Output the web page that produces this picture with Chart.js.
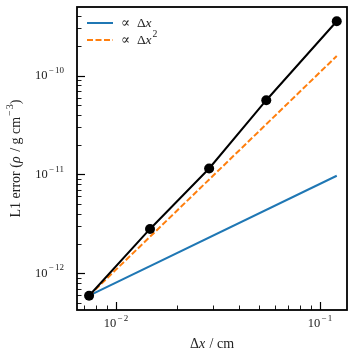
<!DOCTYPE html>
<html>
<head>
<meta charset="utf-8">
<script src="https://cdn.jsdelivr.net/npm/chart.js@4.4.1/dist/chart.umd.min.js"></script>
<style>
  html, body { margin: 0; padding: 0; background: #fff; }
</style>
</head>
<body>
<canvas id="chart" width="357" height="357"></canvas>
<script>
// values
const dx = [0.00738, 0.01468, 0.0286, 0.0545, 0.1207];
const l1Error = [5.93e-13, 2.81e-12, 1.15e-11, 5.64e-11, 3.55e-10];
const refX = [0.00738, 0.1207];
const linearRef = [5.93e-13, 9.7e-12];   // ∝ Δx
const quadRef = [5.93e-13, 1.58e-10];    // ∝ Δx^2
const xMajorTicks = [0.01, 0.1];
const yMajorTicks = [1e-12, 1e-11, 1e-10];
const legendLabels = ['\u221D \u0394x', '\u221D \u0394x'];

const SERIF = '"Liberation Serif", "DejaVu Serif", serif';
const BLUE = '#1f77b4';
const ORANGE = '#ff7f0e';

function font(size, italic) {
    return (italic ? 'italic ' : '') + size + 'px ' + SERIF;
}

// draw a list of text runs (normal / italic / superscript) on one line
function drawRuns(ctx, runs, x, y, align, size) {
    size = size || 12;
    const sub = size * 0.72;
    let total = 0;
    runs.forEach(r => {
        ctx.font = font(r.sup ? sub : size, r.it);
        r.w = ctx.measureText(r.t).width + (r.pad || 0);
        total += r.w;
    });
    let cx = align === 'center' ? x - total / 2 : (align === 'right' ? x - total : x);
    ctx.textAlign = 'left';
    ctx.textBaseline = 'middle';
    runs.forEach(r => {
        ctx.font = font(r.sup ? sub : size, r.it);
        ctx.fillText(r.t, cx + (r.padL || 0), y + (r.sup ? -size * 0.42 : 0));
        cx += r.w;
    });
}

function powRuns(v) {
    const e = Math.round(Math.log10(v));
    return [
        { t: '10' },
        { t: '\u2212', sup: true, pad: 2.5, padL: 1 },
        { t: String(Math.abs(e)), sup: true }
    ];
}

function minorTicks(min, max) {
    const out = [];
    for (let e = Math.floor(Math.log10(min)); e <= Math.ceil(Math.log10(max)); e++) {
        for (let m = 2; m <= 9; m++) {
            const v = m * Math.pow(10, e);
            if (v > min && v < max) out.push(v);
        }
    }
    return out;
}

const decorPlugin = {
    id: 'decor',
    afterDraw(chart) {
        const ctx = chart.ctx;
        const a = chart.chartArea;
        const xs = chart.scales.x;
        const ys = chart.scales.y;
        ctx.save();
        ctx.strokeStyle = '#000';
        ctx.fillStyle = '#000';

        // inward ticks on the left and bottom axes
        ctx.lineWidth = 1.2;
        xMajorTicks.forEach(v => {
            const px = Math.round(xs.getPixelForValue(v)) + 0.5;
            ctx.beginPath(); ctx.moveTo(px, a.bottom); ctx.lineTo(px, a.bottom - 8); ctx.stroke();
        });
        yMajorTicks.forEach(v => {
            const py = Math.round(ys.getPixelForValue(v)) + 0.5;
            ctx.beginPath(); ctx.moveTo(a.left, py); ctx.lineTo(a.left + 8, py); ctx.stroke();
        });
        ctx.lineWidth = 0.9;
        minorTicks(xs.min, xs.max).forEach(v => {
            const px = Math.round(xs.getPixelForValue(v)) + 0.5;
            ctx.beginPath(); ctx.moveTo(px, a.bottom); ctx.lineTo(px, a.bottom - 4.5); ctx.stroke();
        });
        minorTicks(ys.min, ys.max).forEach(v => {
            const py = Math.round(ys.getPixelForValue(v)) + 0.5;
            ctx.beginPath(); ctx.moveTo(a.left, py); ctx.lineTo(a.left + 4.5, py); ctx.stroke();
        });

        // frame
        ctx.lineWidth = 1.8;
        ctx.strokeRect(a.left, a.top, a.right - a.left, a.bottom - a.top);

        // tick labels
        ctx.fillStyle = '#222';
        xMajorTicks.forEach(v => {
            drawRuns(ctx, powRuns(v), xs.getPixelForValue(v), a.bottom + 14, 'center', 12.5);
        });
        yMajorTicks.forEach(v => {
            drawRuns(ctx, powRuns(v), a.left - 13, ys.getPixelForValue(v), 'right', 12.5);
        });

        // axis titles
        drawRuns(ctx, [{ t: '\u0394' }, { t: 'x', it: true, pad: 1 }, { t: ' / cm' }],
            (a.left + a.right) / 2, 344, 'center', 14);
        ctx.save();
        ctx.translate(16, (a.top + a.bottom) / 2);
        ctx.rotate(-Math.PI / 2);
        drawRuns(ctx, [
            { t: 'L1 error (' }, { t: '\u03C1', it: true, pad: 1 }, { t: ' / g cm' },
            { t: '\u2212', sup: true, pad: 2, padL: 1 }, { t: '3', sup: true }, { t: ')' }
        ], 0, 0, 'center', 14);
        ctx.restore();

        // legend in the upper left corner
        const legend = [
            { color: BLUE, dash: [], sup: null },
            { color: ORANGE, dash: [6, 2.5], sup: '2' }
        ];
        legend.forEach((item, i) => {
            const ly = 23 + i * 17;
            ctx.strokeStyle = item.color;
            ctx.lineWidth = 2;
            ctx.setLineDash(item.dash);
            ctx.beginPath(); ctx.moveTo(87, ly); ctx.lineTo(113, ly); ctx.stroke();
            ctx.setLineDash([]);
            const runs = [{ t: '\u221D  \u0394' }, { t: 'x', it: true, pad: 1 }];
            if (item.sup) runs.push({ t: item.sup, sup: true });
            ctx.fillStyle = '#222';
            drawRuns(ctx, runs, 121, ly, 'left', 13.5);
        });
        ctx.restore();
    }
};

new Chart(document.getElementById('chart').getContext('2d'), {
    type: 'line',
    data: {
        datasets: [
            {
                label: 'L1 error',
                data: dx.map((x, i) => ({ x: x, y: l1Error[i] })),
                borderColor: '#000',
                backgroundColor: '#000',
                borderWidth: 2,
                pointRadius: 5,
                pointBorderWidth: 0,
                order: 0
            },
            {
                label: legendLabels[0],
                data: refX.map((x, i) => ({ x: x, y: linearRef[i] })),
                borderColor: BLUE,
                borderWidth: 2,
                pointRadius: 0,
                order: 2
            },
            {
                label: legendLabels[1] + '\u00B2',
                data: refX.map((x, i) => ({ x: x, y: quadRef[i] })),
                borderColor: ORANGE,
                borderWidth: 2,
                borderDash: [6, 2.5],
                pointRadius: 0,
                order: 1
            }
        ]
    },
    options: {
        responsive: false,
        animation: false,
        events: [],
        layout: { padding: { left: 0, top: 7, right: 10, bottom: 0 } },
        plugins: {
            legend: { display: false },
            tooltip: { enabled: false }
        },
        scales: {
            x: {
                type: 'logarithmic',
                min: 0.00644,
                max: 0.1355,
                grid: { display: false },
                border: { display: false },
                ticks: { display: false },
                afterFit: s => { s.height = 47; }
            },
            y: {
                type: 'logarithmic',
                min: 4.25e-13,
                max: 4.95e-10,
                grid: { display: false },
                border: { display: false },
                ticks: { display: false },
                afterFit: s => { s.width = 77; }
            }
        }
    },
    plugins: [decorPlugin]
});
</script>
</body>
</html>
